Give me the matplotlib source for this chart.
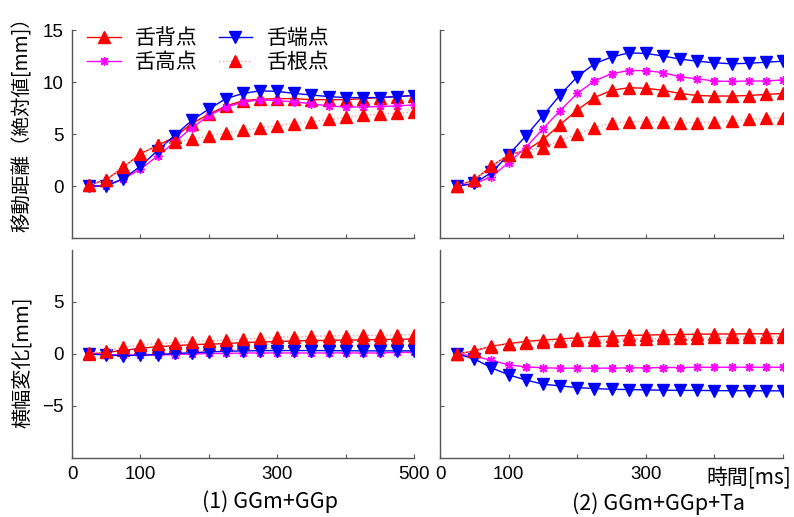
"""Tongue point trajectories: displacement (top) and lateral change (bottom)."""
import matplotlib
matplotlib.use("Agg")
import matplotlib.pyplot as plt  # noqa: E402

JP = ["Noto Sans CJK JP", "DejaVu Sans"]
NUM = ["Liberation Sans", "DejaVu Sans"]

t = list(range(25, 501, 25))
labels = ["舌背点", "舌高点", "舌端点", "舌根点"]

# (1) GGm+GGp -- 移動距離
dist1 = {
    "舌背点": [0.1, 0.6, 1.8, 3.1, 3.9, 4.7, 6.0, 6.9, 7.7, 8.2, 8.35, 8.4, 8.4, 8.3, 8.3, 8.3, 8.4, 8.5, 8.6, 8.7],
    "舌高点": [0.0, 0.0, 0.7, 1.6, 2.9, 4.2, 5.6, 6.75, 7.6, 8.05, 8.3, 8.2, 8.1, 7.9, 7.7, 7.6, 7.6, 7.65, 7.7, 7.8],
    "舌端点": [0.0, 0.0, 0.7, 1.9, 3.4, 4.85, 6.3, 7.4, 8.4, 8.9, 9.15, 9.1, 8.9, 8.75, 8.6, 8.5, 8.5, 8.5, 8.6, 8.7],
    "舌根点": [0.1, 0.6, 1.8, 3.1, 3.9, 4.2, 4.5, 4.8, 5.1, 5.35, 5.6, 5.8, 6.0, 6.2, 6.4, 6.6, 6.8, 6.9, 7.0, 7.1],
}
# (2) GGm+GGp+Ta -- 移動距離
dist2 = {
    "舌背点": [0.0, 0.6, 1.9, 3.0, 3.4, 4.45, 5.9, 7.3, 8.5, 9.2, 9.45, 9.4, 9.2, 8.9, 8.7, 8.65, 8.65, 8.7, 8.8, 8.9],
    "舌高点": [0.0, 0.2, 0.9, 2.25, 3.7, 5.5, 7.25, 8.9, 10.1, 10.8, 11.1, 11.1, 10.9, 10.5, 10.3, 10.1, 10.05, 10.1, 10.1, 10.2],
    "舌端点": [0.0, 0.25, 1.3, 3.0, 4.8, 6.75, 8.75, 10.5, 11.75, 12.4, 12.8, 12.75, 12.5, 12.2, 12.0, 11.85, 11.75, 11.8, 11.9, 12.0],
    "舌根点": [0.0, 0.6, 1.9, 3.0, 3.4, 3.7, 4.35, 5.0, 5.6, 6.05, 6.2, 6.2, 6.15, 6.1, 6.1, 6.15, 6.25, 6.4, 6.5, 6.55],
}
# (1) GGm+GGp -- 横幅変化
lat1 = {
    "舌背点": [0.0, 0.15, 0.35, 0.55, 0.7, 0.8, 0.9, 0.95, 1.0, 1.1, 1.15, 1.2, 1.25, 1.3, 1.3, 1.35, 1.35, 1.4, 1.4, 1.45],
    "舌高点": [0.0, -0.05, -0.1, -0.1, -0.1, -0.05, 0.0, 0.05, 0.05, 0.1, 0.1, 0.1, 0.1, 0.1, 0.1, 0.1, 0.1, 0.1, 0.15, 0.15],
    "舌端点": [0.0, -0.1, -0.15, -0.12, -0.05, 0.05, 0.12, 0.2, 0.26, 0.3, 0.32, 0.33, 0.33, 0.33, 0.32, 0.31, 0.3, 0.3, 0.3, 0.3],
    "舌根点": [0.05, 0.3, 0.63, 0.9, 1.0, 1.1, 1.17, 1.27, 1.33, 1.43, 1.5, 1.6, 1.65, 1.7, 1.75, 1.75, 1.78, 1.8, 1.85, 1.87],
}
# (2) GGm+GGp+Ta -- 横幅変化
lat2 = {
    "舌背点": [0.0, 0.3, 0.75, 1.0, 1.2, 1.35, 1.45, 1.55, 1.65, 1.72, 1.78, 1.82, 1.85, 1.88, 1.9, 1.92, 1.93, 1.94, 1.95, 1.95],
    "舌高点": [0.0, -0.22, -0.6, -1.05, -1.23, -1.33, -1.36, -1.36, -1.36, -1.36, -1.33, -1.33, -1.3, -1.3, -1.28, -1.27, -1.27, -1.27, -1.27, -1.27],
    "舌端点": [0.0, -0.47, -1.33, -2.0, -2.5, -2.9, -3.07, -3.23, -3.32, -3.39, -3.42, -3.45, -3.48, -3.5, -3.5, -3.52, -3.53, -3.53, -3.54, -3.54],
    "舌根点": [0.0, 0.3, 0.7, 0.95, 1.1, 1.2, 1.25, 1.3, 1.3, 1.35, 1.4, 1.45, 1.5, 1.55, 1.58, 1.6, 1.62, 1.65, 1.67, 1.68],
}

style = {
    "舌背点": dict(color="#ff0000", ls="-", marker="^", ms=8),
    "舌高点": dict(color="#ff00ff", ls="-", marker=(8, 2, 0), ms=6.5, mew=1.0),
    "舌端点": dict(color="#0000ff", ls="-", marker="v", ms=8),
    "舌根点": dict(color="#ff9a9a", ls=":", marker="^", ms=8, mfc="#ff0000", mec="#ff0000"),
}

fig = plt.figure(figsize=(7.94, 5.17), dpi=100)
W, H = 794, 517


def make_ax(x0, x1, y0, y1):
    return fig.add_axes([x0 / W, 1 - y1 / H, (x1 - x0) / W, (y1 - y0) / H])


axes = [
    [make_ax(72, 414, 30, 238), make_ax(440, 783, 30, 238)],
    [make_ax(72, 414, 250, 458), make_ax(440, 783, 250, 458)],
]
panels = [[dist1, dist2], [lat1, lat2]]

for r in range(2):
    for c in range(2):
        ax = axes[r][c]
        data = panels[r][c]
        for name in labels:
            ax.plot(t, data[name], lw=1.0, label=name, **style[name])
        ax.set_xlim(0, 500)
        ax.set_xticks([0, 100, 200, 300, 400, 500])
        for s in ("top", "right"):
            ax.spines[s].set_visible(False)
        for s in ("left", "bottom"):
            ax.spines[s].set_color("#555555")
            ax.spines[s].set_linewidth(1.0)
        ax.tick_params(direction="in", length=3, width=0.8, color="#555555",
                       labelsize=13.5, pad=6)
        if r == 0:
            ax.set_ylim(-5, 15)
            ax.set_yticks([0, 5, 10, 15])
            ax.set_xticklabels([])
        else:
            ax.set_ylim(-10, 10)
            ax.set_yticks([-5, 0, 5])
            if c == 0:
                ax.set_xticklabels(["0", "100", "", "300", "", "500"])
            else:
                ax.set_xticklabels(["0", "100", "", "300", "", ""])
        if c == 1:
            ax.set_yticklabels([])
        for lab in ax.get_xticklabels() + ax.get_yticklabels():
            lab.set_family(NUM)

leg = axes[0][0].legend(loc="upper left", bbox_to_anchor=(0.045, 1.015), ncol=2,
                        frameon=False, prop={"family": JP, "size": 15},
                        handlelength=1.6, handletextpad=0.7, columnspacing=1.0,
                        labelspacing=0.12, borderpad=0, borderaxespad=0)

fig.text(22 / W, 1 - 120 / H, "移動距離（絶対値[mm]）", rotation=90,
         ha="center", va="center", family=JP, fontsize=14)
fig.text(22 / W, 1 - 362 / H, "横幅変化[mm]", rotation=90,
         ha="center", va="center", family=JP, fontsize=14.5)
fig.text(791 / W, 1 - 478 / H, "時間[ms]", ha="right", va="center",
         family=JP, fontsize=15)
fig.text(270 / W, 1 - 502 / H, "(1) GGm+GGp", ha="center", va="center",
         family=JP, fontsize=15.5)
fig.text(659 / W, 1 - 504 / H, "(2) GGm+GGp+Ta", ha="center", va="center",
         family=JP, fontsize=15.5)

fig.savefig("out.png", dpi=100)
